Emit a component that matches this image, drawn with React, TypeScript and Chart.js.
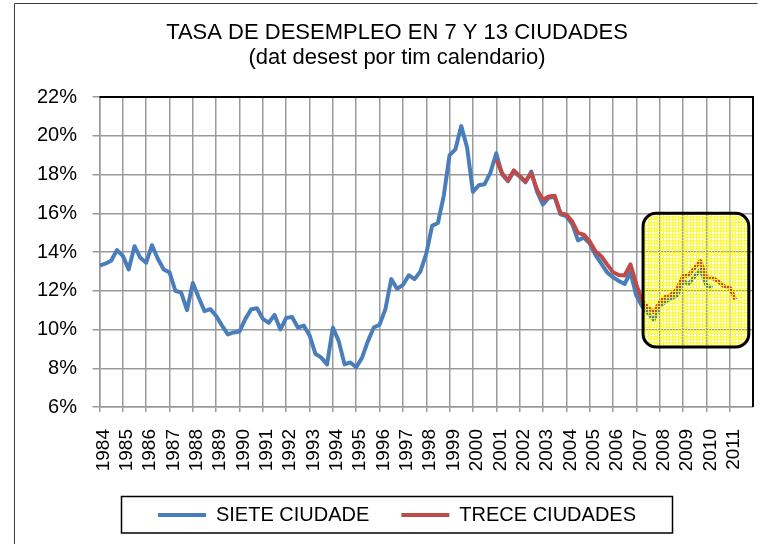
import React, { useEffect, useRef } from 'react';
import { Chart, registerables } from 'chart.js';

Chart.register(...registerables);

const FONT = '"Liberation Sans", Arial, Helvetica, sans-serif';

const titleLines = ['TASA DE DESEMPLEO EN 7 Y 13 CIUDADES', '(dat desest por tim calendario)'];
const seriesNames = ['SIETE CIUDADE', 'TRECE CIUDADES'];
const seriesColors = ['#4a7ebb', '#be4b48'];

// quarterly observations, first value = Q1 of the start year
const sieteStartYear = 1984;
const sieteCiudades = [
  13.3, 13.4, 13.55, 14.1, 13.8, 13.1, 14.3, 13.7, 13.45, 14.35,
  13.65, 13.1, 12.95, 12.0, 11.9, 11.0, 12.4, 11.65, 10.95, 11.05,
  10.7, 10.2, 9.75, 9.85, 9.9, 10.55, 11.05, 11.1, 10.55, 10.35,
  10.75, 10.0, 10.6, 10.65, 10.1, 10.2, 9.7, 8.75, 8.55, 8.2,
  10.1, 9.4, 8.2, 8.3, 8.05, 8.55, 9.4, 10.1, 10.25, 11.05,
  12.6, 12.1, 12.3, 12.8, 12.6, 13.0, 13.9, 15.35, 15.5, 16.9,
  19.0, 19.3, 20.5, 19.4, 17.1, 17.45, 17.5, 18.1,
  19.1, 18.0, 17.65, 18.15, 17.9, 17.6, 18.15, 17.1, 16.45, 16.8, 16.85, 15.95,
  15.85, 15.45, 14.6, 14.75, 14.45, 13.85, 13.4, 12.95, 12.7, 12.5, 12.35, 12.95,
  11.75, 11.2, 10.85, 10.5, 11.2, 11.45, 11.6, 11.75, 12.5, 12.35, 12.75, 13.1,
  12.3, 12.15,
];

const treceStartYear = 2001;
const treceCiudades = [
  18.76, 18.07, 17.69, 18.21, 17.93, 17.64, 18.07, 17.21, 16.7, 16.87, 16.91, 16.01,
  15.93, 15.58, 14.99, 14.9, 14.55, 14.04, 13.78, 13.36, 12.96, 12.81, 12.79, 13.36,
  12.33, 11.47, 11.13, 10.9, 11.39, 11.69, 11.8, 12.1, 12.75, 12.8, 13.19, 13.53,
  12.67, 12.67, 12.5, 12.24, 12.16, 11.56,
];

const yearLabels = [
  '1984', '1985', '1986', '1987', '1988', '1989', '1990', '1991', '1992', '1993',
  '1994', '1995', '1996', '1997', '1998', '1999', '2000', '2001', '2002', '2003',
  '2004', '2005', '2006', '2007', '2008', '2009', '2010', '2011',
];
const xMin = 1984;
const xMax = 2012;
const yTicks = [6, 8, 10, 12, 14, 16, 18, 20, 22];

// highlighted region (data units)
const highlight = { x0: 2007.29, x1: 2011.82, yTop: 16.0, yBottom: 9.1 };

const toPoints = (start: number, values: number[]) =>
  values.map((v, i) => ({ x: start + i / 4, y: v }));

let patternCache: CanvasPattern | null = null;
function getPattern(ctx: CanvasRenderingContext2D) {
  if (patternCache) return patternCache;
  const c = document.createElement('canvas');
  c.width = 3;
  c.height = 3;
  const p = c.getContext('2d')!;
  p.fillStyle = 'rgba(255,255,0,0.85)';
  p.fillRect(0, 0, 3, 1);
  p.fillRect(0, 1, 1, 2);
  patternCache = ctx.createPattern(c, 'repeat');
  return patternCache;
}

function roundRectPath(ctx: CanvasRenderingContext2D, x: number, y: number, w: number, h: number, r: number) {
  ctx.beginPath();
  ctx.moveTo(x + r, y);
  ctx.lineTo(x + w - r, y);
  ctx.arcTo(x + w, y, x + w, y + r, r);
  ctx.lineTo(x + w, y + h - r);
  ctx.arcTo(x + w, y + h, x + w - r, y + h, r);
  ctx.lineTo(x + r, y + h);
  ctx.arcTo(x, y + h, x, y + h - r, r);
  ctx.lineTo(x, y + r);
  ctx.arcTo(x, y, x + r, y, r);
  ctx.closePath();
}

const decorPlugin = {
  id: 'decor',
  beforeDraw(chart: any) {
    const ctx = chart.ctx as CanvasRenderingContext2D;
    ctx.save();
    ctx.fillStyle = '#ffffff';
    ctx.fillRect(0, 0, chart.width, chart.height);
    ctx.strokeStyle = '#404040';
    ctx.lineWidth = 1;
    ctx.beginPath();
    ctx.moveTo(14.5, chart.height + 10);
    ctx.lineTo(14.5, 3.5);
    ctx.lineTo(757.5, 3.5);
    ctx.stroke();
    ctx.restore();
  },
  afterDatasetsDraw(chart: any) {
    const ctx = chart.ctx as CanvasRenderingContext2D;
    const { left, right, top, bottom } = chart.chartArea;
    ctx.save();
    // plot frame top and right
    ctx.strokeStyle = '#000';
    ctx.lineWidth = 2;
    ctx.beginPath();
    ctx.moveTo(left, top);
    ctx.lineTo(right, top);
    ctx.lineTo(right, bottom);
    ctx.stroke();
    // highlight box
    const xs = chart.scales.x;
    const ys = chart.scales.y;
    const x0 = xs.getPixelForValue(highlight.x0);
    const x1 = xs.getPixelForValue(highlight.x1);
    const y0 = ys.getPixelForValue(highlight.yTop);
    const y1 = ys.getPixelForValue(highlight.yBottom);
    roundRectPath(ctx, x0, y0, x1 - x0, y1 - y0, 13);
    const pat = getPattern(ctx);
    if (pat) {
      ctx.fillStyle = pat;
      ctx.fill();
    }
    ctx.strokeStyle = '#000';
    ctx.lineWidth = 3;
    ctx.stroke();
    ctx.restore();
  },
  afterDraw(chart: any) {
    const lg = chart.legend;
    if (!lg || !lg.legendHitBoxes || !lg.legendHitBoxes.length) return;
    const hb = lg.legendHitBoxes;
    const l = hb[0].left;
    const last = hb[hb.length - 1];
    const r = last.left + last.width;
    const cx = (l + r) / 2;
    const cy = hb[0].top + hb[0].height / 2;
    const ctx = chart.ctx as CanvasRenderingContext2D;
    ctx.save();
    ctx.strokeStyle = '#000';
    ctx.lineWidth = 1.5;
    ctx.strokeRect(cx - 275.5, cy - 18.5, 551, 36.5);
    ctx.restore();
  },
};

export default function App() {
  const ref = useRef<HTMLCanvasElement | null>(null);

  useEffect(() => {
    if (!ref.current) return;
    const chart = new Chart(ref.current, {
      type: 'line',
      data: {
        datasets: [
          {
            label: seriesNames[0],
            data: toPoints(sieteStartYear, sieteCiudades),
            borderColor: seriesColors[0],
            backgroundColor: seriesColors[0],
            borderWidth: 4,
            pointRadius: 0,
            tension: 0,
            borderJoinStyle: 'round',
            order: 1,
          },
          {
            label: seriesNames[1],
            data: toPoints(treceStartYear, treceCiudades),
            borderColor: seriesColors[1],
            backgroundColor: seriesColors[1],
            borderWidth: 4,
            pointRadius: 0,
            tension: 0,
            borderJoinStyle: 'round',
            order: 0,
          },
        ],
      },
      options: {
        animation: false,
        responsive: false,
        devicePixelRatio: 1,
        parsing: false,
        normalized: true,
        layout: { padding: { left: 14, right: -17, top: 0, bottom: 9 } },
        plugins: {
          title: {
            display: true,
            text: titleLines,
            color: '#000',
            font: { family: FONT, size: 22, weight: 'normal', lineHeight: 1.16 },
            padding: { top: 20, bottom: 26 },
          },
          legend: {
            display: true,
            position: 'bottom',
            labels: {
              color: '#000',
              font: { family: FONT, size: 20 },
              boxWidth: 48,
              boxHeight: 4,
              padding: 32,
              generateLabels: (chart: any) =>
                chart.data.datasets.map((ds: any, i: number) => ({
                  text: ds.label,
                  fillStyle: ds.borderColor,
                  strokeStyle: ds.borderColor,
                  lineWidth: 0,
                  hidden: false,
                  datasetIndex: i,
                  fontColor: '#000',
                })),
            },
          },
          tooltip: { enabled: false },
        },
        scales: {
          x: {
            type: 'linear',
            min: xMin,
            max: xMax,
            afterBuildTicks: (scale: any) => {
              scale.ticks = yearLabels.map((l) => ({ value: Number(l) }));
            },
            afterFit: (scale: any) => {
              scale.height = 66;
              scale.paddingLeft = 0;
              scale.paddingRight = 10;
            },
            ticks: {
              autoSkip: false,
              minRotation: 90,
              maxRotation: 90,
              padding: 17,
              labelOffset: 4,
              color: '#000',
              font: { family: FONT, size: 19 },
              callback: (_v: any, i: number) => yearLabels[i],
            },
            grid: { color: '#9a9a9a', lineWidth: 1.5, tickLength: 5, drawTicks: true },
            border: { display: true, color: '#9a9a9a', width: 1.5 },
          },
          y: {
            type: 'linear',
            min: yTicks[0],
            max: yTicks[yTicks.length - 1],
            afterBuildTicks: (scale: any) => {
              scale.ticks = yTicks.map((v) => ({ value: v }));
            },
            afterFit: (scale: any) => {
              scale.width = 85.5;
            },
            ticks: {
              padding: 15.5,
              color: '#000',
              font: { family: FONT, size: 20 },
              callback: (v: any) => `${v}%`,
            },
            grid: { color: '#9a9a9a', lineWidth: 1.5, tickLength: 7, drawTicks: true },
            border: { display: true, color: '#9a9a9a', width: 1.5 },
          },
        },
      },
      plugins: [decorPlugin],
    } as any);
    return () => chart.destroy();
  }, []);

  return (
    <div style={{ position: 'fixed', left: 0, top: 0, width: 763, height: 544, background: '#fff' }}>
      <canvas ref={ref} width={763} height={544} style={{ display: 'block' }} />
    </div>
  );
}
